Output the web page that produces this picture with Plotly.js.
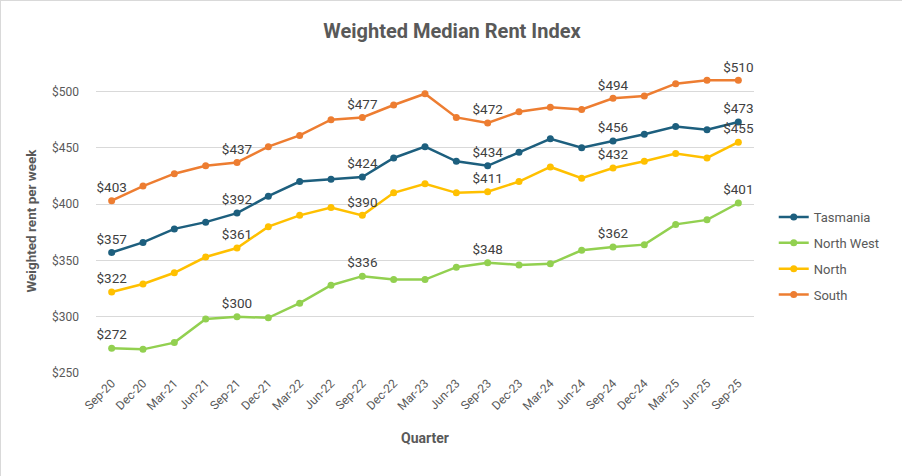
<!DOCTYPE html>
<html>
<head>
<meta charset="utf-8">
<script src="https://cdn.plot.ly/plotly-3.0.1.min.js"></script>
<style>
html,body{margin:0;padding:0;background:#fff;}
#chart{width:902px;height:476px;box-sizing:border-box;border:1px solid #d9d9d9;}
</style>
</head>
<body>
<div id="chart"></div>
<script>
const quarters = ["Sep-20","Dec-20","Mar-21","Jun-21","Sep-21","Dec-21","Mar-22","Jun-22","Sep-22","Dec-22","Mar-23","Jun-23","Sep-23","Dec-23","Mar-24","Jun-24","Sep-24","Dec-24","Mar-25","Jun-25","Sep-25"];
const tasmania  = [357,366,378,384,392,407,420,422,424,441,451,438,434,446,458,450,456,462,469,466,473];
const northWest = [272,271,277,298,300,299,312,328,336,333,333,344,348,346,347,359,362,364,382,386,401];
const north     = [322,329,339,353,361,380,390,397,390,410,418,410,411,420,433,423,432,438,445,441,455];
const south     = [403,416,427,434,437,451,461,475,477,488,498,477,472,482,486,484,494,496,507,510,510];
const seriesNames = ["Tasmania","North West","North","South"];
const seriesColors = ["#1d5f7e","#92d050","#ffc000","#ed7d31"];
const labelEvery = 4;

const FONT = "Roboto, 'Liberation Sans', sans-serif";
const allSeries = [tasmania, northWest, north, south];

const traces = allSeries.map((vals, i) => ({
  type: "scatter",
  mode: "lines+markers+text",
  name: seriesNames[i],
  legendgroup: seriesNames[i],
  x: quarters,
  y: vals,
  text: vals.map((v, j) => (j % labelEvery === 0 ? "$" + v : "")),
  textposition: "top center",
  textfont: {family: FONT, size: 13.5, color: "#404040"},
  cliponaxis: false,
  line: {color: seriesColors[i], width: 2.5},
  marker: {color: seriesColors[i], size: 7},
  hoverinfo: "x+y"
}));

const layout = {
  width: 902, height: 476,
  margin: {l: 95, r: 149, t: 68, b: 104},
  paper_bgcolor: "#fff", plot_bgcolor: "#fff",
  font: {family: FONT, color: "#595959"},
  title: {
    text: "<b>Weighted Median Rent Index</b>",
    font: {family: FONT, size: 20, color: "#595959"},
    x: 0.5, xanchor: "center", y: 0.937, yanchor: "middle", yref: "container"
  },
  xaxis: {
    type: "category",
    range: [-0.5, 20.5],
    tickangle: -45,
    tickfont: {family: FONT, size: 12, color: "#595959"},
    showgrid: false, zeroline: false, showline: false, ticks: "",
    title: {text: "<b>Quarter</b>", font: {family: FONT, size: 14, color: "#595959"}, standoff: 21}
  },
  yaxis: {
    range: [250, 520],
    tickvals: [250,300,350,400,450,500],
    ticktext: ["$250","$300","$350","$400","$450","$500"],
    tickfont: {family: FONT, size: 12, color: "#595959"},
    gridcolor: "#d9d9d9", gridwidth: 1,
    zeroline: false, showline: false, ticks: "",
    ticklabelstandoff: 16,
    title: {text: "<b>Weighted rent per week</b>", font: {family: FONT, size: 13.5, color: "#595959"}, standoff: 12}
  },
  showlegend: true,
  legend: {
    x: 1.03, xanchor: "left", y: 0.385, yanchor: "middle",
    font: {family: FONT, size: 13, color: "#595959"},
    tracegroupgap: 6,
    bgcolor: "rgba(0,0,0,0)"
  }
};

Plotly.newPlot("chart", traces, layout, {displayModeBar: false, staticPlot: true});
</script>
</body>
</html>
